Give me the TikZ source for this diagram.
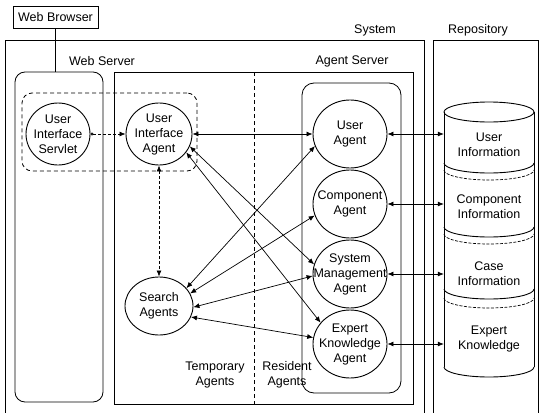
\documentclass[tikz,border=0pt]{standalone}
\usepackage{fontspec}
\setmainfont{Liberation Sans}
\usetikzlibrary{shapes.geometric,arrows.meta}

\begin{document}
\begin{tikzpicture}[x=1pt,y=-1pt,
  txt/.style={font=\fontsize{12.5}{15}\selectfont, align=center, inner sep=0pt},
  frame/.style={line width=0.8pt},
  agent/.style={draw, ellipse, line width=0.9pt, inner sep=0pt,
    minimum width=74pt, minimum height=68pt},
  conn/.style={line width=0.7pt,
    {Latex[length=6pt,width=5pt]}-{Latex[length=6pt,width=5pt]}},
  dconn/.style={conn, dash pattern=on 3pt off 2pt},
  boxdash/.style={line width=0.8pt, dash pattern=on 4pt off 3pt}
]
\useasboundingbox (0,0) rectangle (540,412);

% outer frames
\draw[frame] (5,415) -- (5,40) -- (424,40) -- (424,415);
\draw[frame] (433,415) -- (433,40) -- (538,40) -- (538,415);
\node[txt] (lsys) at (375,30) {System};
\node[txt] (lrep) at (478,30) {Repository};

% web browser
\node[txt, draw, line width=0.8pt, minimum width=85pt, minimum height=22pt] (wb) at (55.5,17) {Web Browser};

% web server and agent server
\node[draw, frame, rounded corners=10pt, minimum width=88pt, minimum height=330pt] (ws) at (59,237) {};
\node[txt] (lws) at (102,61) {Web Server};
\node[draw, frame, minimum width=299pt, minimum height=332pt] (as) at (263.5,238) {};
\node[txt] (las) at (352,61) {Agent Server};
\draw[frame] (wb.south) -- (wb.south |- ws.north);

% temporary / resident split
\draw[boxdash] (254,72) -- (254,404);
\node[draw, frame, rounded corners=12pt, minimum width=99pt, minimum height=310pt] (res) at (351.5,238) {};
\node[draw, boxdash, rounded corners=10pt, minimum width=175pt, minimum height=78pt] (uibox) at (109.5,132) {};
\node[txt] (ltmp) at (215,375) {Temporary\\Agents};
\node[txt] (lres) at (287,375) {Resident\\Agents};

% agents
\node[agent, minimum width=64pt, minimum height=62pt] (uis) at (58,134) {};
\node[txt] (uis-t) at (uis) {User\\Interface\\Servlet};
\node[agent, minimum width=66pt, minimum height=62pt] (uia) at (159,134) {};
\node[txt] (uia-t) at (uia) {User\\Interface\\Agent};
\node[agent, minimum width=68pt, minimum height=58pt] (sa) at (159,306) {};
\node[txt] (sa-t) at (sa) {Search\\Agents};

\node[agent] (ua) at (350,134) {};
\node[txt] (ua-t) at (ua) {User\\Agent};
\node[agent] (ca) at (350,204) {};
\node[txt] (ca-t) at (ca) {Component\\Agent};
\node[agent] (sm) at (350,274) {};
\node[txt] (sm-t) at (sm) {System\\Management\\Agent};
\node[agent] (ek) at (350,344) {};
\node[txt] (ek-t) at (ek) {Expert\\Knowledge\\Agent};

% repository cylinders
\draw[line width=0.9pt] (444,112) -- (444,367) (534,112) -- (534,367);
\draw[line width=0.9pt] (489,112) ellipse [x radius=45, y radius=10];
\foreach \yb in {163,227,289,367}
  \draw[line width=0.9pt] (444,\yb) arc [start angle=180, end angle=360, x radius=45, y radius=-10];
\foreach \yt in {170,234,298}
  \draw[line width=0.7pt, dash pattern=on 3pt off 1.5pt] (444,\yt) arc [start angle=180, end angle=360, x radius=45, y radius=-10];
\node[txt, minimum width=90pt, minimum height=40pt] (ui) at (489,145) {User\\Information};
\node[txt, minimum width=90pt, minimum height=40pt] (ci) at (489,207) {Component\\Information};
\node[txt, minimum width=90pt, minimum height=40pt] (ki) at (489,274) {Case\\Information};
\node[txt, minimum width=90pt, minimum height=40pt] (ek-i) at (489,339) {Expert\\Knowledge};

% connectors
\draw[dconn, {Circle[open,length=3pt]}-{Latex[length=6pt,width=5pt]}] (uis.east) -- (uia.west);
\draw[conn] (uia.east) -- (ua.west);
\draw[dconn] (uia.south) -- (sa.north);
\draw[conn] (uia.-22) -- (sm.165);
\draw[conn] (uia.-34) -- (ek.144);
\draw[conn] (sa.33) -- (ua.199);
\draw[conn] (sa.22) -- (ca.198);
\draw[conn] (sa.-2) -- (sm.183);
\draw[conn] (sa.-19) -- (ek.170);

\draw[conn] (ua.east) -- (ua.east -| ui.west);
\draw[conn] (ca.east) -- (ca.east -| ci.west);
\draw[conn] (sm.east) -- (sm.east -| ki.west);
\draw[conn] (ek.east) -- (ek.east -| ek-i.west);
\end{tikzpicture}
\end{document}
